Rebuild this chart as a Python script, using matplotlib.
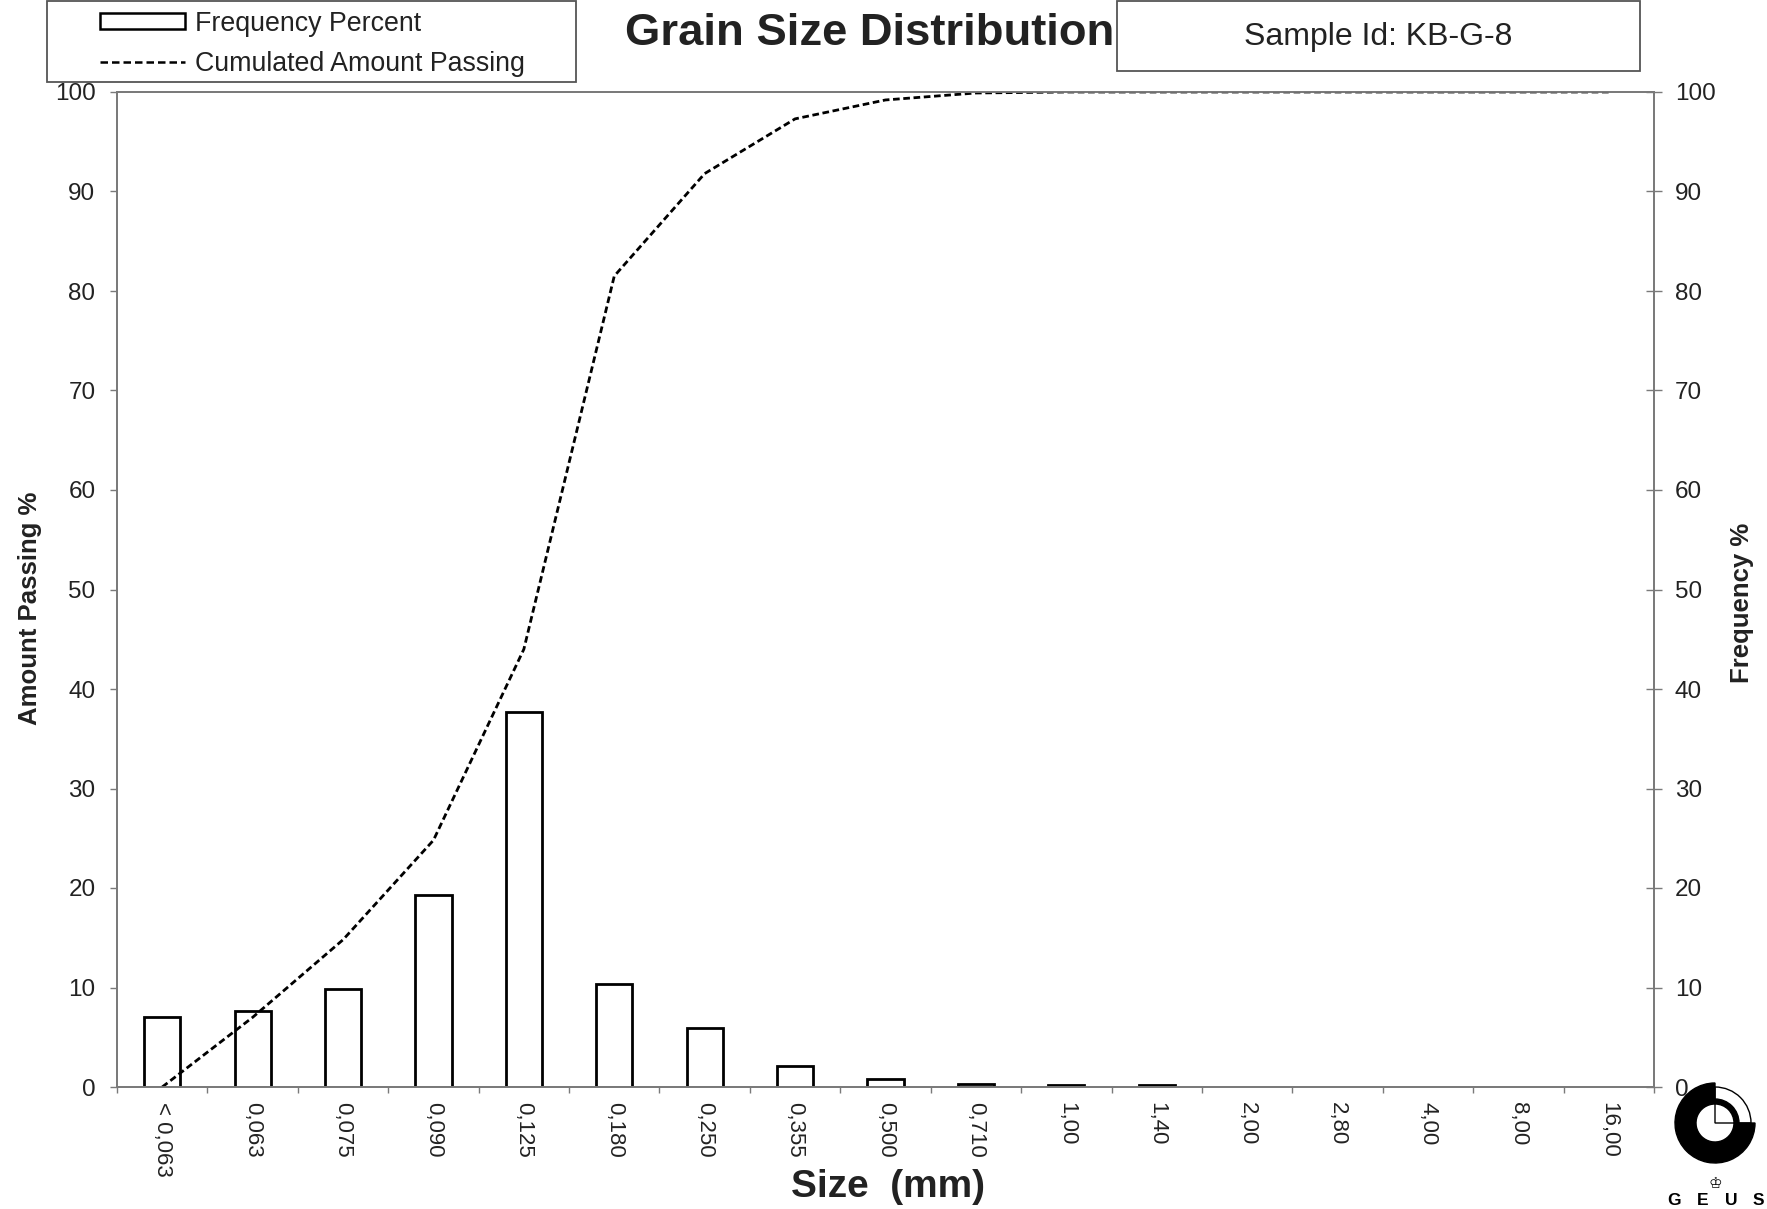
import matplotlib.pyplot as plt
from matplotlib.patches import Rectangle, Wedge
from matplotlib.lines import Line2D

# sieve classes (mm) and measured values
sizes = ["< 0,063", "0,063", "0,075", "0,090", "0,125", "0,180", "0,250", "0,355",
         "0,500", "0,710", "1,00", "1,40", "2,00", "2,80", "4,00", "8,00", "16,00"]
frequency = [7.0, 7.6, 9.8, 19.3, 37.7, 10.4, 5.9, 2.1, 0.85, 0.3, 0.25, 0.25,
             0, 0, 0, 0, 0]
cumulated = [0, 7.0, 14.8, 24.8, 44.0, 81.5, 91.8, 97.3, 99.2, 99.9, 100, 100,
             100, 100, 100, 100, 100]
percent_ticks = [0, 10, 20, 30, 40, 50, 60, 70, 80, 90, 100]

W, H = 1767, 1209
GRAY = "#7a7a7a"
plt.rcParams["font.family"] = ["Liberation Sans", "DejaVu Sans"]


def fx(px):
    return px / W


def fy(py):
    return 1 - py / H


fig = plt.figure(figsize=(W / 100, H / 100), dpi=100)
ax = fig.add_axes([fx(117), fy(1087), fx(1654) - fx(117), fy(92) - fy(1087)])
ax2 = ax.twinx()

# bars on the frequency axis, line on the amount passing axis (drawn on top)
pos = list(range(len(sizes)))
bar_pos = [p for p, v in zip(pos, frequency) if v > 0]
bar_val = [v for v in frequency if v > 0]
ax2.bar(bar_pos, bar_val, width=0.4, facecolor="white", edgecolor="black", linewidth=2.0)
ax.plot(pos, cumulated, color="black", linewidth=2.0, linestyle=(0, (2.4, 1.3)))
ax.set_zorder(ax2.get_zorder() + 1)
ax.patch.set_visible(False)

for a in (ax, ax2):
    a.set_ylim(0, 100)
    a.set_yticks(percent_ticks)
    for s in a.spines.values():
        s.set_color(GRAY)
        s.set_linewidth(1.3)

ax.set_xlim(-0.5, len(sizes) - 0.5)
ax.set_xticks([p - 0.5 for p in pos] + [len(sizes) - 0.5])
ax.set_xticklabels([])
ax.set_xticks(pos, minor=True)
ax.set_xticklabels(sizes, minor=True, rotation=270)
ax.tick_params(axis="x", which="major", direction="out", length=4.5, width=1, color=GRAY)
ax.tick_params(axis="x", which="minor", length=0, pad=11, labelsize=16, labelcolor="#222")
ax.tick_params(axis="y", direction="out", length=5, width=1, color=GRAY,
               labelsize=17.5, pad=10.5, labelcolor="#222")
ax2.tick_params(axis="y", direction="inout", length=12, width=1, color=GRAY,
                labelsize=17.5, pad=9, labelcolor="#222")

fig.text(fx(30), fy(608), "Amount Passing %", rotation=90, ha="center", va="center",
         fontsize=18.5, fontweight="bold", color="#222")
fig.text(fx(1742), fy(603), "Frequency %", rotation=90, ha="center", va="center",
         fontsize=18.5, fontweight="bold", color="#222")
fig.text(fx(888), fy(1187), "Size  (mm)", ha="center", va="center",
         fontsize=28, fontweight="bold", color="#222")
fig.text(fx(625), fy(45), "Grain Size Distribution", ha="left", va="baseline",
         fontsize=32.7, fontweight="bold", color="#222", zorder=3)

# sample id box
fig.patches.append(Rectangle((fx(1117), fy(71)), fx(1640) - fx(1117), fy(1) - fy(71),
                             transform=fig.transFigure, facecolor="white",
                             edgecolor="#555", linewidth=1.3, zorder=5))
fig.text(fx(1378), fy(45), "Sample Id: KB-G-8", ha="center", va="baseline",
         fontsize=23, color="#222", zorder=6)

# legend box
fig.patches.append(Rectangle((fx(47), fy(82)), fx(576) - fx(47), fy(1) - fy(82),
                             transform=fig.transFigure, facecolor="white",
                             edgecolor="#555", linewidth=1.3, zorder=5))
fig.patches.append(Rectangle((fx(100), fy(29)), fx(185) - fx(100), fy(13) - fy(29),
                             transform=fig.transFigure, facecolor="white",
                             edgecolor="black", linewidth=1.8, zorder=6))
fig.lines.append(Line2D([fx(100), fx(185)], [fy(62), fy(62)], transform=fig.transFigure,
                        color="black", linewidth=1.8, linestyle=(0, (3.0, 1.6)), zorder=6))
fig.text(fx(195), fy(31), "Frequency Percent", ha="left", va="baseline",
         fontsize=19.3, color="#222", zorder=6)
fig.text(fx(195), fy(71), "Cumulated Amount Passing", ha="left", va="baseline",
         fontsize=19.3, color="#222", zorder=6)

# GEUS logo
lg = fig.add_axes([fx(1660), fy(1209), fx(1767) - fx(1660), fy(1070) - fy(1209)])
lg.set_xlim(0, 107)
lg.set_ylim(0, 139)
lg.axis("off")
c = (55, 86)
lg.add_patch(Wedge(c, 40, 90, 360, width=21, color="black"))
lg.add_patch(Wedge(c, 36, 0, 90, facecolor="none", edgecolor="black", linewidth=1))
lg.add_patch(Wedge(c, 24, 0, 90, width=5, color="black"))
lg.text(55, 26, "\u2654", ha="center", va="center", fontsize=11, family="DejaVu Sans")
for lx, letter in zip([14, 43, 71, 98], "GEUS"):
    lg.text(lx, 16, letter, ha="center", va="top", fontsize=12.5, fontweight="bold")

fig.savefig("out.png", dpi=100)
